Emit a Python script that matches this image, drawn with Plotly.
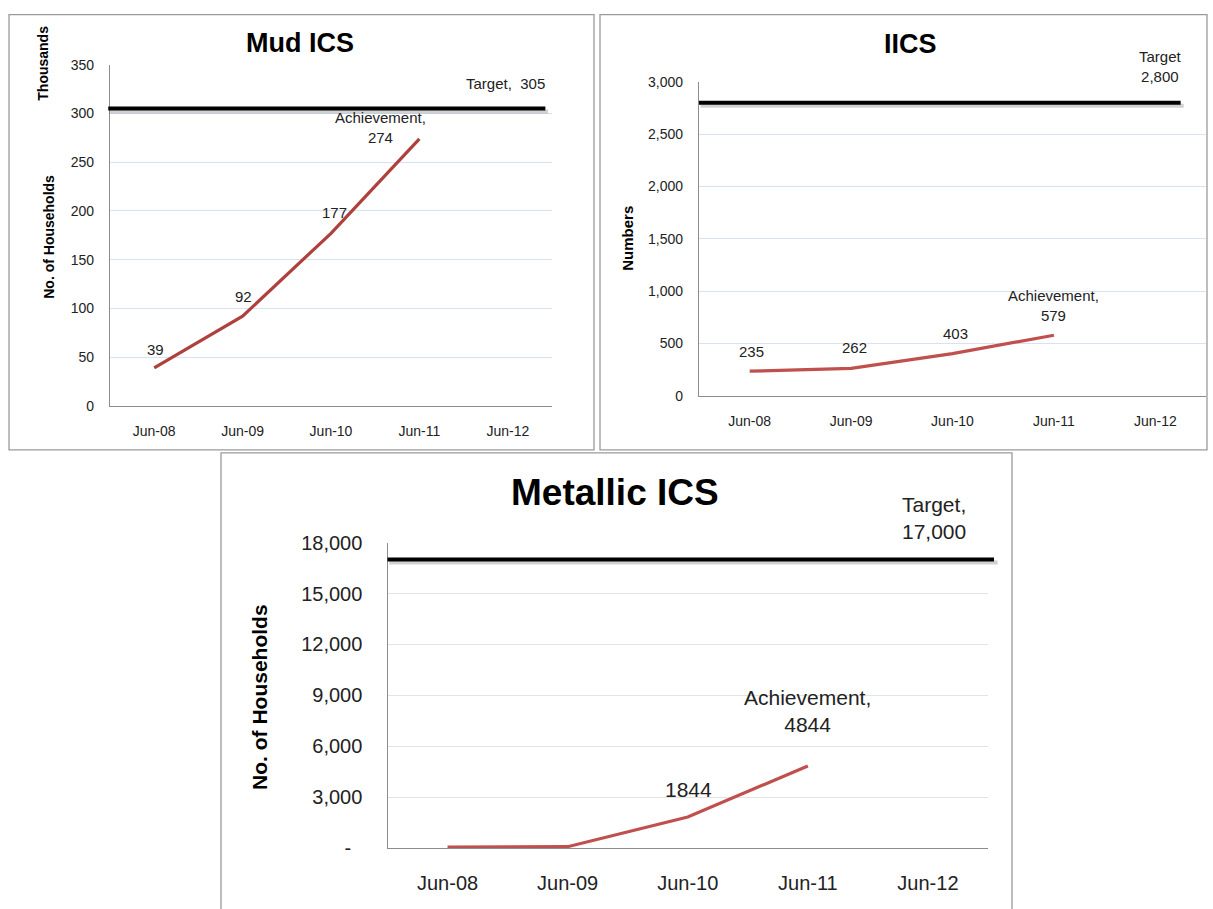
import plotly.graph_objects as go

W, H = 1213, 909

categories = ["Jun-08", "Jun-09", "Jun-10", "Jun-11", "Jun-12"]

mud_values = [39, 92, 177, 274]
mud_target = 305
mud_ticks = [0, 50, 100, 150, 200, 250, 300, 350]
mud_ticktext = ["0", "50", "100", "150", "200", "250", "300", "350"]

iics_values = [235, 262, 403, 579]
iics_target = 2800
iics_ticks = [0, 500, 1000, 1500, 2000, 2500, 3000]
iics_ticktext = ["0", "500", "1,000", "1,500", "2,000", "2,500", "3,000"]

met_values = [70, 90, 1844, 4844]
met_target = 17000
met_ticks = [0, 3000, 6000, 9000, 12000, 15000, 18000]
met_ticktext = ["-\u00a0\u00a0", "3,000", "6,000", "9,000", "12,000", "15,000", "18,000"]

FONT = "Liberation Sans, Arial, sans-serif"
TXT = "#222222"

# screen mapping compensation (vertical)
VOFF, VSC = 10.3, 0.9755


def px_x(p):
    return p / W


def px_y(p):
    return 1 - ((p - VOFF) / VSC) / H


def sh(v):
    return v / VSC


fig = go.Figure()

panels = [
    dict(xa="x", ya="y", vals=mud_values, target=mud_target,
         xd=[110, 552], yd=[64, 405], rng=[0, 350], ticks=mud_ticks, ticktext=mud_ticktext,
         tickfont=14, grid="#D9E2F1", red="#AE413E", tx=[-0.004, 0.985], xstand=12),
    dict(xa="x2", ya="y2", vals=iics_values, target=iics_target,
         xd=[699, 1206], yd=[81, 395], rng=[0, 3000], ticks=iics_ticks, ticktext=iics_ticktext,
         tickfont=14, grid="#D9E2F1", red="#C0504D", tx=[0.0, 0.95], xstand=12),
    dict(xa="x3", ya="y3", vals=met_values, target=met_target,
         xd=[387.5, 988], yd=[541.7, 847.3], rng=[0, 18000], ticks=met_ticks, ticktext=met_ticktext,
         tickfont=20, grid="#E3E3E3", red="#C0504D", tx=[0.0, 1.01], xstand=17),
]

layout_axes = {}
shapes = []
for i, p in enumerate(panels):
    fig.add_trace(go.Scatter(
        x=categories[:len(p["vals"])], y=p["vals"], mode="lines",
        line=dict(color=p["red"], width=3.2), xaxis=p["xa"], yaxis=p["ya"],
        showlegend=False, hoverinfo="skip",
    ))
    fig.add_trace(go.Scatter(
        x=[categories[-1]], y=[None], mode="markers", xaxis=p["xa"], yaxis=p["ya"],
        showlegend=False, hoverinfo="skip",
    ))
    suffix = "" if i == 0 else str(i + 1)
    layout_axes["xaxis" + suffix] = dict(
        domain=[px_x(p["xd"][0]), px_x(p["xd"][1])],
        anchor="y" + suffix, type="category", categoryorder="array", categoryarray=categories,
        range=[-0.5, 4.5], showgrid=False, showline=True, linecolor="#8C8C8C", linewidth=1.3,
        ticks="", tickfont=dict(size=p["tickfont"], color=TXT, family=FONT),
        ticklabelstandoff=p["xstand"], fixedrange=True,
    )
    layout_axes["yaxis" + suffix] = dict(
        domain=[px_y(p["yd"][1]), px_y(p["yd"][0])],
        anchor="x" + suffix, range=p["rng"], tickvals=p["ticks"], ticktext=p["ticktext"],
        showgrid=True, gridcolor=p["grid"], gridwidth=1.2, zeroline=False,
        showline=True, linecolor="#8C8C8C", linewidth=1.3, ticks="",
        tickfont=dict(size=p["tickfont"], color=TXT, family=FONT),
        ticklabelstandoff=12 if i < 2 else 20, fixedrange=True,
    )
    shapes.append(dict(type="line", xref=p["xa"] + " domain", yref=p["ya"],
                       x0=p["tx"][0] + 0.003, x1=p["tx"][1] + 0.006,
                       ysizemode="pixel", yanchor=p["target"], y0=-3, y1=-3,
                       line=dict(color="rgba(0,0,0,0.18)", width=4)))
    shapes.append(dict(type="line", xref=p["xa"] + " domain", yref=p["ya"],
                       x0=p["tx"][0], x1=p["tx"][1], y0=p["target"], y1=p["target"],
                       line=dict(color="#000000", width=4)))

for (x0, y0, x1, y1) in [(9, 14, 594, 449), (600, 14, 1207, 449), (221, 452, 1012, 915)]:
    shapes.append(dict(type="rect", xref="paper", yref="paper",
                       x0=px_x(x0), x1=px_x(x1), y0=px_y(y1), y1=px_y(y0),
                       line=dict(color="#9A9A9A", width=1.3), fillcolor="rgba(0,0,0,0)", layer="below"))

ann = []


def lab(text, xa, ya, x, y, xs, ys, size):
    ann.append(dict(text=text, xref=xa, yref=ya, x=x, y=y, xshift=xs, yshift=sh(ys),
                    showarrow=False, font=dict(size=size, color=TXT, family=FONT), align="center"))


lab(str(mud_values[0]), "x", "y", categories[0], mud_values[0], 1, 18, 15)
lab(str(mud_values[1]), "x", "y", categories[1], mud_values[1], 1, 19, 15)
lab(str(mud_values[2]), "x", "y", categories[2], mud_values[2], 3, 20, 15)
lab("Achievement,<br>" + str(mud_values[3]), "x", "y", categories[3], mud_values[3], -39, 11, 15)
lab("Target,  " + str(mud_target), "x", "y", categories[4], mud_target, -2, 24, 15)

lab(str(iics_values[0]), "x2", "y2", categories[0], iics_values[0], 2, 19, 15)
lab(str(iics_values[1]), "x2", "y2", categories[1], iics_values[1], 3, 20, 15)
lab(str(iics_values[2]), "x2", "y2", categories[2], iics_values[2], 3, 20, 15)
lab("Achievement,<br>" + f"{iics_values[3]}", "x2", "y2", categories[3], iics_values[3], 0, 29, 15)
lab("Target<br>" + f"{iics_target:,}", "x2", "y2", categories[4], iics_target, 5, 35, 15)

lab(str(met_values[2]), "x3", "y3", categories[2], met_values[2], 1, 27, 21)
lab("Achievement,<br>" + str(met_values[3]), "x3", "y3", categories[3], met_values[3], 0, 54, 21)
lab("Target,<br>" + f"{met_target:,}", "x3", "y3", categories[4], met_target, 6, 41, 21)


def ptext(text, x, y, size, bold=True, angle=0):
    ann.append(dict(text=f"<b>{text}</b>" if bold else text, xref="paper", yref="paper",
                    x=px_x(x), y=px_y(y), showarrow=False, textangle=angle,
                    xanchor="center", yanchor="middle",
                    font=dict(size=size, color="#000000", family=FONT)))


ptext("Mud ICS", 300, 42, 27)
ptext("IICS", 910, 43, 27)
ptext("Metallic ICS", 615, 492, 37)
ptext("No. of Households", 49, 236, 14, angle=-90)
ptext("Thousands", 43, 63, 14, angle=-90)
ptext("Numbers", 628, 238, 15, angle=-90)
ptext("No. of Households", 260, 696, 21, angle=-90)

fig.update_layout(
    width=W, height=H, margin=dict(l=0, r=0, t=0, b=0),
    paper_bgcolor="white", plot_bgcolor="white",
    shapes=shapes, annotations=ann, showlegend=False,
    font=dict(family=FONT, color=TXT),
    **layout_axes,
)

fig.write_html(
    "out.html",
    config={"displayModeBar": False},
    post_script="document.body.style.margin='0';document.body.style.padding='0';"
                "document.documentElement.style.overflow='hidden';",
)
